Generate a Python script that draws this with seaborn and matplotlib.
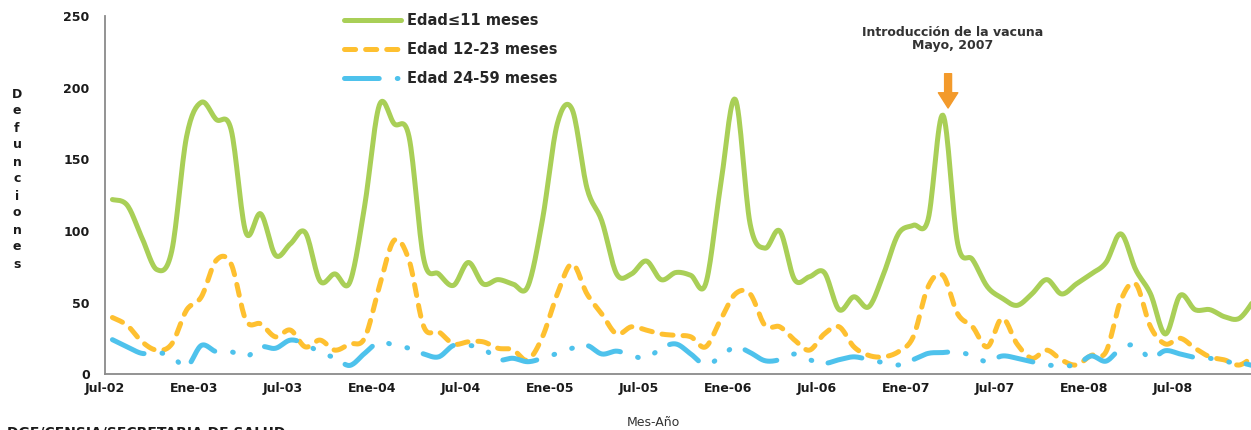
import numpy as np
import matplotlib
matplotlib.use("Agg")
import matplotlib.pyplot as plt
import seaborn as sns

# defunciones mensuales, Jul-02 .. Dic-08 (one value per month)
edad_0_11 = [122, 118, 95, 73, 86, 166, 190, 178, 171, 99, 112, 83,
             91, 99, 65, 70, 64, 117, 188, 175, 166, 80, 70, 62,
             78, 63, 66, 63, 61, 108, 175, 185, 130, 107, 70, 70,
             79, 66, 71, 69, 63, 131, 192, 105, 88, 100, 66, 68,
             71, 45, 54, 47, 70, 98, 104, 108, 181, 91, 80, 61,
             53, 48, 56, 66, 56, 63, 70, 78, 98, 73, 56, 28,
             55, 45, 45, 40, 39, 52]
edad_12_23 = [39.5, 34, 22.5, 16.7, 21, 44.7, 54, 79.5, 77, 37.7, 35, 26,
              30.7, 19, 23.7, 16.7, 21, 25, 61, 93.5, 79.5, 33, 29.5, 21,
              22.5, 22.5, 18, 17, 9.8, 26, 56, 77, 56, 42, 28, 33,
              30.7, 28, 27, 26, 19, 37.7, 56, 56, 34, 33, 23.7, 16.7,
              28, 33, 19, 13, 12, 15.6, 26, 61, 69, 42, 33, 19,
              39, 21, 11, 16.7, 9.8, 6.3, 13, 15.6, 51.6, 63, 33, 21,
              25, 18, 12, 9.8, 6.3, 13]
edad_24_59 = [24, 19, 14.4, 15, 12.5, 5, 20, 15.6, 15.6, 12, 19, 18,
              23.7, 21, 15, 11.4, 6, 14.4, 22.5, 20, 18, 14, 12, 20,
              20, 18, 10, 11, 8.6, 11, 14.4, 18, 20, 14, 16, 13,
              11, 18, 21, 14, 6.3, 12, 19, 15, 9.3, 10, 14, 10,
              7.4, 10, 12, 10, 8, 6.3, 10, 14.4, 15, 15.6, 12.6, 8.6,
              12.6, 11, 8.6, 6.3, 6, 6.3, 12.6, 9, 18, 20, 11, 16.3,
              14, 11.6, 11, 8.6, 8, 5.6]

tick_labels = ["Jul-02", "Ene-03", "Jul-03", "Ene-04", "Jul-04", "Ene-05", "Jul-05",
               "Ene-06", "Jul-06", "Ene-07", "Jul-07", "Ene-08", "Jul-08"]
series_labels = ["Edad≤11 meses", "Edad 12-23 meses", "Edad 24-59 meses"]
colors = ["#A9CF57", "#FEC030", "#4EC2EC"]


def smooth(values, steps=16):
    """Excel style smoothed line: cubic Bezier pieces through every point."""
    y = np.asarray(values, float)
    x = np.arange(len(y)) + 0.5
    pts = np.column_stack([x, y])
    padded = np.vstack([pts[0], pts, pts[-1]])
    t = np.linspace(0, 1, steps, endpoint=False)[:, None]
    out = []
    for i in range(len(pts) - 1):
        p0, p1, p2, p3 = padded[i], padded[i + 1], padded[i + 2], padded[i + 3]
        c1 = p1 + (p2 - p0) / 6
        c2 = p2 - (p3 - p1) / 6
        out.append((1 - t) ** 3 * p1 + 3 * (1 - t) ** 2 * t * c1
                   + 3 * (1 - t) * t ** 2 * c2 + t ** 3 * p2)
    out.append(pts[-1:])
    out = np.vstack(out)
    return out[:, 0], out[:, 1]


sns.set_style("white")
plt.rcParams["font.family"] = ["DejaVu Sans"]
plt.rcParams["lines.scale_dashes"] = False
plt.rcParams["lines.dash_capstyle"] = "round"
plt.rcParams["lines.solid_capstyle"] = "round"

W, H = 1251, 430
fig = plt.figure(figsize=(W / 100, H / 100), dpi=100)
ax = fig.add_axes([105 / W, 1 - 374 / H, 1146 / W, (374 - 16.5) / H])

styles = ["-", (0, (8, 7.2)), (0, (25, 13, 0.5, 13, 0.5, 12))]
for vals, lab, col, ls in zip([edad_0_11, edad_12_23, edad_24_59], series_labels, colors, styles):
    sx, sy = smooth(vals)
    sns.lineplot(x=sx, y=sy, ax=ax, color=col, linewidth=3.6, label=lab,
                 sort=False, estimator=None)
    ax.lines[-1].set_linestyle(ls)
    ax.lines[-1].set_dash_capstyle("round")

ax.set_xlim(0, 1146 / 14.83)
ax.set_ylim(0, 250)
ax.set_yticks(np.arange(0, 251, 50))
ax.set_xticks(np.arange(0, 6 * len(tick_labels), 6))
ax.set_xticklabels(tick_labels)
ax.set_xlabel("")
ax.set_ylabel("")

for side in ["top", "right"]:
    ax.spines[side].set_visible(False)
for side in ["left", "bottom"]:
    ax.spines[side].set_color("#8a8a8a")
    ax.spines[side].set_linewidth(1.3)
ax.tick_params(axis="both", direction="out", length=4, width=1, color="#8a8a8a",
               labelsize=9, labelcolor="#1a1a1a")
ax.tick_params(axis="y", pad=7)
ax.tick_params(axis="x", pad=1.5)
for lbl in ax.get_xticklabels() + ax.get_yticklabels():
    lbl.set_fontweight("bold")

handles, labels = ax.get_legend_handles_labels()
ax.legend(handles, labels, loc="upper left", bbox_to_anchor=(344 / W, 1 - 13 / H),
          bbox_transform=fig.transFigure, frameon=False, borderpad=0, borderaxespad=0,
          handlelength=3.9, handletextpad=0.45, labelspacing=0.95,
          prop={"weight": "bold", "size": 10.5})

# vaccine introduction marker
ax.annotate("", xy=(56.85, 186), xytext=(56.85, 210), xycoords="data",
            arrowprops=dict(arrowstyle="simple,head_length=1.1,head_width=1.4,tail_width=0.5",
                            color="#F39A2B", mutation_scale=10, shrinkA=0, shrinkB=0),
            annotation_clip=False)
fig.text(953 / W, 1 - 39 / H, "Introducción de la vacuna\nMayo, 2007", ha="center", va="center",
         fontsize=9, fontweight="bold", color="#333333", linespacing=1.0)

fig.text(17 / W, 1 - 179 / H, "\n".join("Defunciones"), ha="center", va="center",
         fontsize=9, fontweight="bold", color="#1a1a1a", linespacing=1.4)
fig.text(653 / W, 1 - 422 / H, "Mes-Año", ha="center", va="center",
         fontsize=9, color="#333333")
fig.text(7 / W, 1 - 425 / H, "DGE/CENSIA/SECRETARIA DE SALUD", ha="left", va="top",
         fontsize=10, fontweight="bold", color="#1a1a1a")

fig.savefig("out.png", dpi=100)
